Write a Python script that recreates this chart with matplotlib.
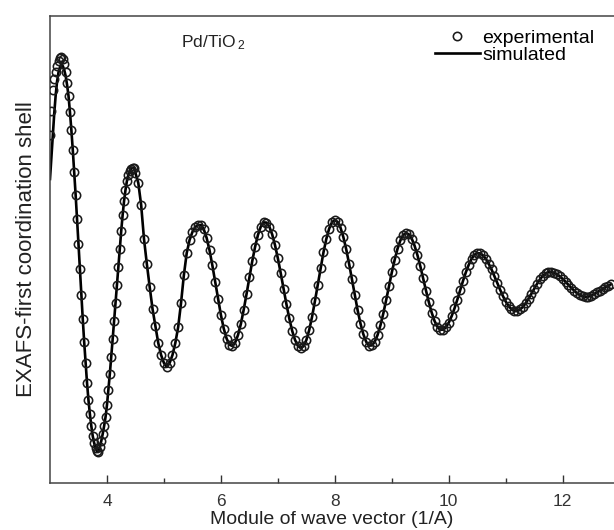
import numpy as np
import matplotlib
matplotlib.use("Agg")
import matplotlib.pyplot as plt

# EXAFS first shell (arbitrary units)
# low k part sampled every 0.025, rest every 0.05
k_lo_start, k_lo_step = 3.0, 0.025
exp_lo = [0.74, 0.86, 0.965, 1.02, 1.055, 1.085, 1.11, 1.125, 1.13, 1.12,
          1.095, 1.055, 1.00, 0.935, 0.855, 0.765, 0.665, 0.555, 0.44, 0.32,
          0.195, 0.07, -0.06, -0.18, -0.295, -0.40, -0.50, -0.585, -0.655, -0.715,
          -0.765, -0.80, -0.825, -0.84, -0.845, -0.82, -0.79, -0.755, -0.715, -0.67,
          -0.61, -0.535, -0.455, -0.37, -0.28, -0.19, -0.10, -0.01, 0.08, 0.17,
          0.26, 0.34, 0.41, 0.465, 0.51, 0.54, 0.56, 0.572, 0.577, 0.574]
k_hi_start, k_hi_step = 4.5, 0.05
exp_hi = [0.55, 0.50, 0.39, 0.22, 0.095, -0.02, -0.13, -0.215, -0.30, -0.36,
          -0.40, -0.42, -0.40, -0.36, -0.30, -0.22, -0.10, 0.04, 0.15, 0.215,
          0.255, 0.28, 0.29, 0.29, 0.268, 0.225, 0.164, 0.088, 0.005, -0.08,
          -0.16, -0.228, -0.278, -0.308, -0.315, -0.298, -0.26, -0.205, -0.134, -0.055,
          0.028, 0.109, 0.181, 0.24, 0.282, 0.303, 0.302, 0.282, 0.243, 0.189,
          0.123, 0.049, -0.029, -0.106, -0.177, -0.238, -0.284, -0.314, -0.325, -0.316,
          -0.285, -0.235, -0.169, -0.091, -0.009, 0.075, 0.153, 0.22, 0.272, 0.304,
          0.315, 0.305, 0.276, 0.229, 0.168, 0.096, 0.018, -0.061, -0.136, -0.203,
          -0.256, -0.294, -0.313, -0.312, -0.294, -0.26, -0.212, -0.153, -0.086, -0.016,
          0.053, 0.116, 0.171, 0.213, 0.24, 0.25, 0.243, 0.222, 0.186, 0.139,
          0.084, 0.023, -0.038, -0.096, -0.148, -0.19, -0.219, -0.234, -0.233, -0.221,
          -0.198, -0.166, -0.127, -0.083, -0.036, 0.011, 0.054, 0.091, 0.121, 0.141,
          0.15, 0.148, 0.138, 0.121, 0.097, 0.068, 0.035, 0.001, -0.033, -0.065,
          -0.093, -0.115, -0.131, -0.139, -0.139, -0.132, -0.12, -0.101, -0.079, -0.054,
          -0.029, -0.004, 0.018, 0.036, 0.048, 0.054, 0.054, 0.051, 0.043, 0.033,
          0.02, 0.006, -0.009, -0.024, -0.038, -0.051, -0.06, -0.067, -0.07, -0.068,
          -0.063, -0.055, -0.047, -0.038, -0.03, -0.022, -0.013, -0.006]
# the fit only differs from the data at the very start (k <= 3.3)
sim_head = [0.52, 0.63, 0.74, 0.85, 0.94, 1.01, 1.055, 1.08, 1.09, 1.085,
            1.065, 1.035, 0.99]

xticks = [4, 6, 8, 10, 12]
minor_xticks = [5, 7, 9, 11]

k = np.concatenate([k_lo_start + k_lo_step * np.arange(len(exp_lo)),
                    k_hi_start + k_hi_step * np.arange(len(exp_hi))])
chi_exp = np.array(exp_lo + exp_hi)
chi_sim = np.array(sim_head + exp_lo[len(sim_head):] + exp_hi)

plt.rcParams["font.family"] = ["Liberation Sans", "DejaVu Sans"]
plt.rcParams["mathtext.fontset"] = "custom"
plt.rcParams["mathtext.rm"] = "Liberation Sans"
plt.rcParams["mathtext.default"] = "regular"

fig = plt.figure(figsize=(6.14, 5.30), dpi=100)
ax = fig.add_axes([50 / 614, 47 / 530, 1 - 50 / 614, 467 / 530])

# line first, hollow circles on top
ax.plot(k, chi_sim, color="black", lw=1.9, label="simulated", zorder=2)
ax.plot(k, chi_exp, ls="none", marker="o", ms=6.0, mfc="none", mec="#1a1a1a",
        mew=1.15, label="experimental", zorder=3)

ax.set_xlim(3.0, 12.9)
ax.set_ylim(-1.0, 1.335)
ax.set_xticks(xticks)
ax.set_xticks(minor_xticks, minor=True)
ax.set_yticks([])
ax.tick_params(axis="x", which="major", direction="in", length=6, width=1.0,
               labelsize=12.5, colors="#333333", pad=8)
ax.tick_params(axis="x", which="minor", direction="in", length=3.5, width=1.0,
               colors="#333333")
for side in ["left", "top", "bottom"]:
    ax.spines[side].set_color("#444444")
    ax.spines[side].set_linewidth(1.1)
ax.spines["right"].set_visible(False)

ax.set_xlabel("Module of wave vector (1/A)", fontsize=14, color="#222222", labelpad=1)
ax.set_ylabel("EXAFS-first coordination shell", fontsize=16, color="#222222", labelpad=9)

ax.text(0.232, 0.942, r"Pd/TiO$_{\,2}$", transform=ax.transAxes, fontsize=12.5,
        color="#222222", va="center", ha="left")

handles, labels = ax.get_legend_handles_labels()
ax.legend(handles[::-1], labels[::-1], loc="upper right", frameon=False,
          fontsize=14, handlelength=2.3, handletextpad=0.15, labelspacing=-0.05,
          borderaxespad=0.3, bbox_to_anchor=(0.99, 1.0))

fig.savefig("out.png", dpi=100)
